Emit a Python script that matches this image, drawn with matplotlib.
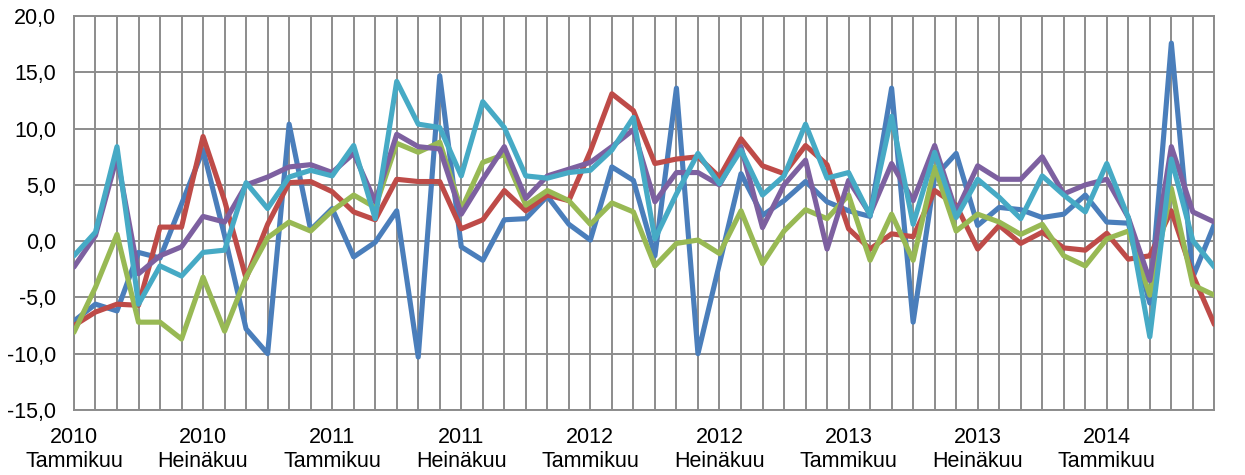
import matplotlib.pyplot as plt
from matplotlib.ticker import FuncFormatter

plt.rcParams['font.family'] = ['Liberation Sans', 'DejaVu Sans']

# Monthly values, Jan 2010 - Jun 2014
months = list(range(54))
blue = [-7.1, -5.6, -6.2, -1.0, -1.5, 3.3, 8.1, 0.5, -7.8, -10.0,
        10.4, 1.0, 2.9, -1.4, -0.1, 2.7, -10.3, 14.7, -0.5, -1.7,
        1.9, 2.0, 4.0, 1.5, 0.1, 6.6, 5.4, -1.3, 13.6, -10.0,
        -2.0, 6.0, 2.3, 3.6, 5.3, 3.5, 2.7, 2.2, 13.6, -7.2,
        5.7, 7.8, 1.4, 3.0, 2.8, 2.1, 2.4, 4.1, 1.7, 1.6,
        -5.5, 17.6, -3.2, 1.5]
red = [-7.5, -6.3, -5.6, -5.7, 1.25, 1.25, 9.3, 3.6, -3.3, 1.5,
       5.2, 5.3, 4.4, 2.6, 1.9, 5.5, 5.3, 5.3, 1.1, 1.9,
       4.5, 2.7, 4.1, 3.6, 8.0, 13.1, 11.6, 6.9, 7.3, 7.5,
       5.7, 9.1, 6.7, 6.0, 8.5, 6.8, 1.1, -0.7, 0.65, 0.4,
       4.5, 3.2, -0.7, 1.4, -0.2, 0.8, -0.6, -0.8, 0.7, -1.6,
       -1.3, 2.7, -3.0, -7.4]
green = [-8.1, -4.1, 0.6, -7.2, -7.2, -8.7, -3.2, -8.0, -3.2, 0.3,
         1.7, 0.9, 2.7, 4.1, 3.0, 8.7, 7.9, 8.8, 2.8, 7.0,
         7.7, 3.2, 4.5, 3.6, 1.5, 3.4, 2.6, -2.2, -0.2, 0.1,
         -1.1, 2.7, -2.0, 0.9, 2.8, 2.0, 4.1, -1.7, 2.4, -1.7,
         6.6, 0.9, 2.4, 1.7, 0.6, 1.5, -1.3, -2.2, 0.2, 0.9,
         -4.8, 4.7, -3.9, -4.8]
purple = [-2.3, 0.5, 7.5, -2.9, -1.3, -0.5, 2.2, 1.7, 5.0, 5.7,
          6.6, 6.8, 6.1, 7.8, 3.5, 9.5, 8.4, 8.2, 2.4, 5.5,
          8.4, 3.8, 5.8, 6.4, 7.0, 8.4, 9.9, 3.5, 6.1, 6.1,
          5.0, 8.4, 1.2, 5.0, 7.2, -0.7, 5.4, 2.4, 6.9, 3.6,
          8.5, 2.6, 6.7, 5.5, 5.5, 7.5, 4.2, 5.0, 5.5, 2.1,
          -3.5, 8.4, 2.6, 1.7]
cyan = [-1.3, 0.8, 8.4, -5.6, -2.2, -3.1, -1.0, -0.8, 5.2, 2.9,
        5.7, 6.3, 5.8, 8.5, 2.0, 14.2, 10.4, 10.1, 5.8, 12.4,
        10.1, 5.8, 5.6, 6.1, 6.3, 8.1, 11.0, 0.2, 4.2, 7.8,
        5.1, 8.1, 4.1, 5.8, 10.4, 5.6, 6.1, 2.3, 11.1, 1.5,
        7.9, 2.1, 5.5, 3.9, 2.0, 5.8, 4.1, 2.6, 6.9, 2.1,
        -8.5, 7.3, 0.05, -2.3]

years = ['2010', '2010', '2011', '2011', '2012', '2012', '2013', '2013', '2014']
halves = ['Tammikuu', 'Heinäkuu'] * 4 + ['Tammikuu']

fig = plt.figure(figsize=(12.45, 4.75), dpi=100)
ax = fig.add_axes([0.0594, 0.137, 0.916, 0.829])

series = [(blue, '#4A7EBB'), (red, '#BE4B48'), (green, '#98B954'),
          (purple, '#7D60A0'), (cyan, '#46AAC5')]
for vals, col in series:
    ax.plot(months, vals, color=col, linewidth=3.7, solid_joinstyle='round',
            solid_capstyle='round', zorder=3)

ax.set_xlim(0, 53)
ax.set_ylim(-15, 20)
ax.set_yticks(range(-15, 21, 5))
ax.yaxis.set_major_formatter(FuncFormatter(lambda v, p: f'{v:.1f}'.replace('.', ',')))

labels = [''] * 54
for k, (y, h) in enumerate(zip(years, halves)):
    labels[k * 6] = f'{y}\n{h}'
ax.set_xticks(months)
ax.set_xticklabels(labels, linespacing=1.2)

ax.grid(True, color='#8C8C8C', linewidth=1.4, zorder=0)
ax.set_axisbelow(True)
ax.tick_params(axis='both', length=0, labelsize=15.5, colors='black')
ax.tick_params(axis='y', pad=13)
ax.tick_params(axis='x', pad=12)
for s in ax.spines.values():
    s.set_color('#8C8C8C')
    s.set_linewidth(1.4)

fig.savefig('out.png', dpi=100)
